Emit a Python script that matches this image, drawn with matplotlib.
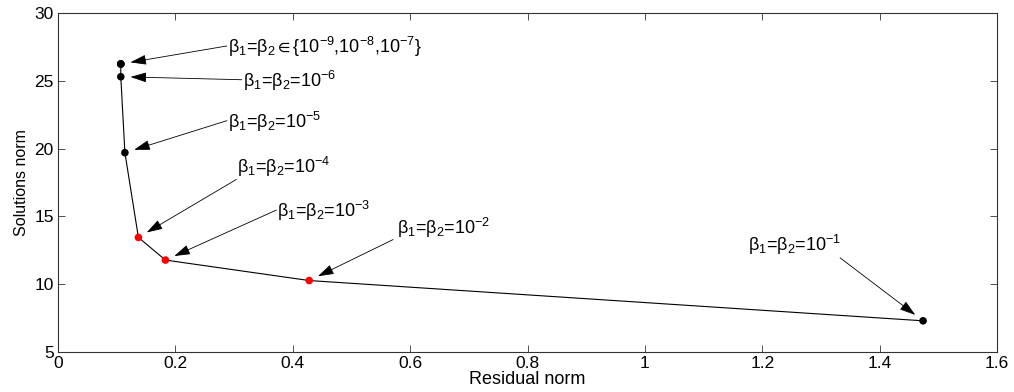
import matplotlib
matplotlib.use("Agg")
import matplotlib.pyplot as plt
import numpy as np

plt.rcParams["font.family"] = ["Liberation Sans", "DejaVu Sans"]
plt.rcParams["mathtext.fontset"] = "custom"
plt.rcParams["mathtext.rm"] = "Liberation Sans"
plt.rcParams["mathtext.it"] = "Liberation Sans"
plt.rcParams["mathtext.default"] = "rm"
plt.rcParams["mathtext.fallback"] = "stixsans"

# L-curve data: residual norm vs solution norm for beta1 = beta2
betas = ["-9", "-8", "-7", "-6", "-5", "-4", "-3", "-2", "-1"]
residual = [0.107, 0.107, 0.107, 0.107, 0.114, 0.137, 0.183, 0.428, 1.474]
solution = [26.24, 26.24, 26.24, 25.3, 19.7, 13.45, 11.78, 10.27, 7.3]
colors = ["black", "black", "black", "black", "black", "red", "red", "red", "black"]

labels = [
    r"β$_1$=β$_2$$\in${10$^{-9}$,10$^{-8}$,10$^{-7}$}",
    r"β$_1$=β$_2$=10$^{-6}$",
    r"β$_1$=β$_2$=10$^{-5}$",
    r"β$_1$=β$_2$=10$^{-4}$",
    r"β$_1$=β$_2$=10$^{-3}$",
    r"β$_1$=β$_2$=10$^{-2}$",
    r"β$_1$=β$_2$=10$^{-1}$",
]
label_idx = [0, 3, 4, 5, 6, 7, 8]
# arrow tail offset from point (pixels), text offset from tail (pixels)
tail_off = [(106, 18), (121, -3), (102, 32), (98, 58), (111, 50), (84, 41), (-83, 63)]
text_off = [(1, -1), (1, -1), (1, -1), (1, 12), (1, -1), (4, 12), (-92, 13)]

fig = plt.figure(figsize=(10.14, 3.92), dpi=100)
ax = fig.add_axes([58 / 1014, 40 / 392, 939 / 1014, 339 / 392])

ax.plot(residual, solution, color="black", linewidth=0.8, zorder=2)
ax.scatter(residual, solution, c=colors, s=30, zorder=3, edgecolors="none")

for i, k in enumerate(label_idx):
    dx, dy = tail_off[i]
    ax.annotate("", xy=(residual[k], solution[k]), xytext=(dx, dy),
                textcoords="offset pixels",
                arrowprops=dict(arrowstyle="-|>,head_length=0.7,head_width=0.22",
                                color="black", lw=0.6,
                                mutation_scale=14, shrinkA=0, shrinkB=7))
    tx, ty = text_off[i]
    ax.annotate(labels[i], xy=(residual[k], solution[k]),
                xytext=(dx + tx, dy + ty), textcoords="offset pixels",
                ha="left", va="center", fontsize=13)

ax.set_xlim(0, 1.6)
ax.set_ylim(5, 30)
ax.set_xticks(np.arange(0, 1.61, 0.2))
ax.set_xticklabels(["0", "0.2", "0.4", "0.6", "0.8", "1", "1.2", "1.4", "1.6"])
ax.set_yticks([5, 10, 15, 20, 25, 30])
ax.tick_params(direction="in", top=True, right=True, length=5, width=0.6,
               labelsize=12.5, pad=3, colors="#333333", labelcolor="black")
for s in ax.spines.values():
    s.set_linewidth(0.8)
    s.set_color("#333333")

ax.set_xlabel("Residual norm", fontsize=13, labelpad=0)
ax.set_ylabel("Solutions norm", fontsize=11.5, labelpad=4)

fig.savefig("out.png", dpi=100)
